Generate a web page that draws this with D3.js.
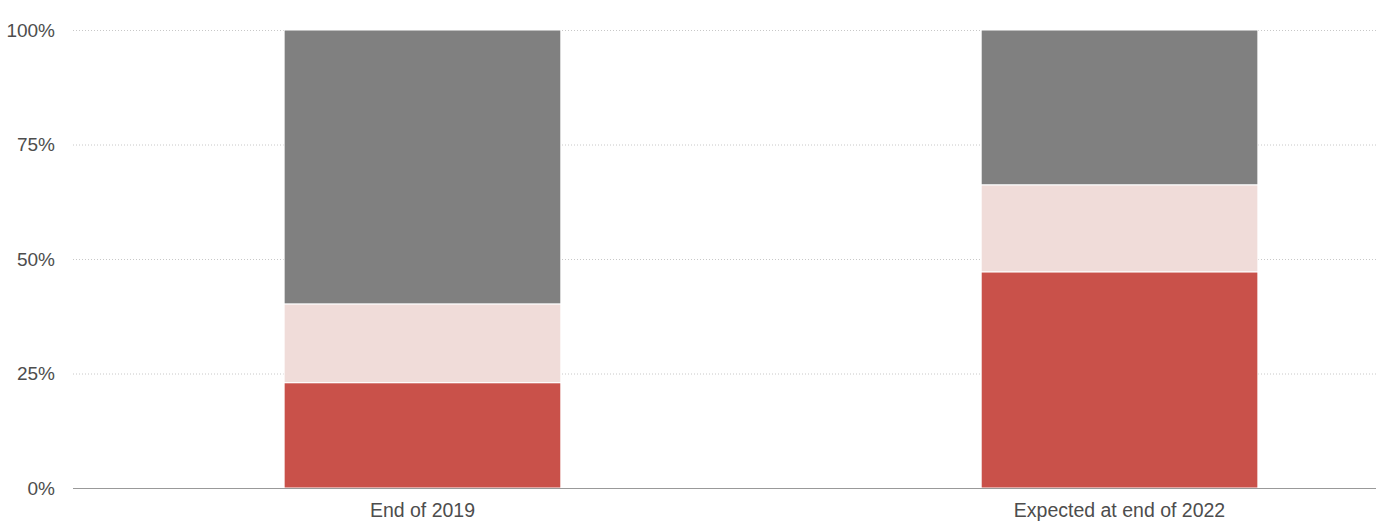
<!DOCTYPE html>
<html>
<head>
<meta charset="utf-8">
<script src="https://cdn.jsdelivr.net/npm/d3@7"></script>
<style>
    body { margin: 0; background: #fff; }
    svg text { font-family: "Liberation Sans", Arial, Helvetica, sans-serif; fill: #4d4d4d; }
</style>
</head>
<body>
<svg id="chart" width="1376" height="526"></svg>
<script>
// data (percent shares, stacked bottom to top)
var categories = ['End of 2019', 'Expected at end of 2022'];
var seriesKeys = ['red', 'pink', 'grey'];
var redValues = [23, 47.2];
var pinkValues = [17.2, 19];
var greyValues = [59.8, 33.8];
var yTicks = [0, 25, 50, 75, 100];

var colors = { red: '#c9514a', pink: '#f0dcd9', grey: '#808080' };

var width = 1376,
    height = 526,
    margin = { top: 30, left: 75, bottom: 38 };

var rows = categories.map(function(c, i) {
    return { category: c, red: redValues[i], pink: pinkValues[i], grey: greyValues[i] };
});

var svg = d3.select('#chart');

// the plot runs past the right edge of the picture, so the band range does too
var x = d3.scaleBand()
    .domain(categories)
    .range([margin.left, 1467])
    .paddingInner(0.603)
    .paddingOuter(0.3);

var y = d3.scaleLinear()
    .domain([0, 100])
    .range([height - margin.bottom, margin.top]);

// dotted grid lines
svg.append('g')
    .selectAll('line')
    .data(yTicks.filter(function(d) { return d > 0; }))
    .enter()
    .append('line')
    .attr('x1', margin.left - 2)
    .attr('x2', width)
    .attr('y1', function(d) { return y(d) + 0.5; })
    .attr('y2', function(d) { return y(d) + 0.5; })
    .attr('stroke', '#c8c8c8')
    .attr('stroke-width', 1)
    .attr('stroke-dasharray', '1,2');

// y tick labels
svg.append('g')
    .selectAll('text')
    .data(yTicks)
    .enter()
    .append('text')
    .attr('x', 55)
    .attr('y', function(d) { return y(d); })
    .attr('dy', '0.35em')
    .attr('text-anchor', 'end')
    .attr('font-size', 19)
    .text(function(d) { return d + '%'; });

// stacked bars
var stacked = d3.stack().keys(seriesKeys)(rows);

svg.append('g')
    .selectAll('g')
    .data(stacked)
    .enter()
    .append('g')
    .attr('fill', function(d) { return colors[d.key]; })
    .selectAll('rect')
    .data(function(d) { return d; })
    .enter()
    .append('rect')
    .attr('x', function(d) { return x(d.data.category); })
    .attr('width', x.bandwidth())
    .attr('y', function(d) { return y(d[1]); })
    .attr('height', function(d) { return y(d[0]) - y(d[1]); })
    .attr('stroke', '#fff')
    .attr('stroke-width', 1);

// baseline
svg.append('line')
    .attr('x1', margin.left - 2)
    .attr('x2', width)
    .attr('y1', y(0) + 0.5)
    .attr('y2', y(0) + 0.5)
    .attr('stroke', '#999')
    .attr('stroke-width', 1);

// category labels
svg.append('g')
    .selectAll('text')
    .data(categories)
    .enter()
    .append('text')
    .attr('x', function(d) { return x(d) + x.bandwidth() / 2; })
    .attr('y', y(0) + 29)
    .attr('text-anchor', 'middle')
    .attr('font-size', 19.5)
    .text(function(d) { return d; });
</script>
</body>
</html>
